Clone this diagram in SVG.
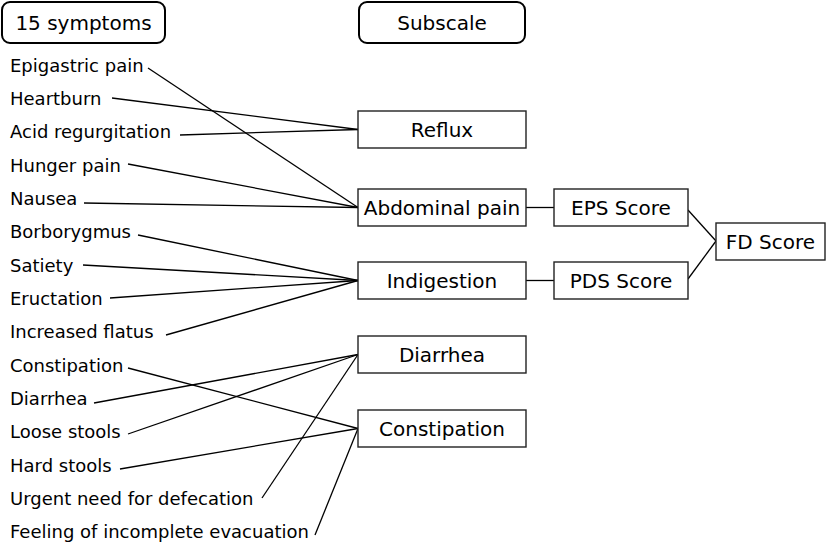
<svg xmlns="http://www.w3.org/2000/svg" width="828" height="542" viewBox="0 0 828 542">
<style>
text{font-family:"DejaVu Sans",Verdana,sans-serif;fill:#000}
.sym{font-size:18px}
.box{font-size:20px;text-anchor:middle}
.hdr{fill:#fff;stroke:#000;stroke-width:2}
.nb{fill:#fff;stroke:#222;stroke-width:1.4}
.ln{stroke:#000;stroke-width:1.3;fill:none}
</style>
<rect width="828" height="542" fill="#fff"/>
<g id="connectors">
<line class="ln" x1="148" y1="68" x2="358" y2="207.5"/>
<line class="ln" x1="112" y1="98" x2="358" y2="129.5"/>
<line class="ln" x1="180" y1="135" x2="358" y2="129.5"/>
<line class="ln" x1="128" y1="164" x2="358" y2="207.5"/>
<line class="ln" x1="84" y1="203" x2="358" y2="207.5"/>
<line class="ln" x1="138" y1="235" x2="358" y2="280.5"/>
<line class="ln" x1="83" y1="265" x2="358" y2="280.5"/>
<line class="ln" x1="110" y1="298" x2="358" y2="280.5"/>
<line class="ln" x1="166" y1="335" x2="358" y2="280.5"/>
<line class="ln" x1="128" y1="368" x2="358" y2="428.5"/>
<line class="ln" x1="94" y1="403" x2="358" y2="354.5"/>
<line class="ln" x1="128" y1="434" x2="358" y2="354.5"/>
<line class="ln" x1="120" y1="469" x2="358" y2="428.5"/>
<line class="ln" x1="262" y1="498" x2="358" y2="354.5"/>
<line class="ln" x1="315" y1="535" x2="358" y2="428.5"/>
<line class="ln" x1="526" y1="207.5" x2="554" y2="207.5"/>
<line class="ln" x1="526" y1="280.5" x2="554" y2="280.5"/>
<line class="ln" x1="688" y1="210" x2="716" y2="241"/>
<line class="ln" x1="688" y1="279" x2="716" y2="241"/>
</g>
<g id="hdr-symptoms"><rect class="hdr" x="2" y="2" width="163" height="41" rx="8"/><text class="box" x="83.5" y="30">15 symptoms</text></g>
<g id="hdr-subscale"><rect class="hdr" x="359" y="2" width="166" height="41" rx="8"/><text class="box" x="442" y="30">Subscale</text></g>
<g id="symptoms">
<text class="sym" x="10" y="72">Epigastric pain</text>
<text class="sym" x="10" y="105">Heartburn</text>
<text class="sym" x="10" y="138">Acid regurgitation</text>
<text class="sym" x="10" y="171.5">Hunger pain</text>
<text class="sym" x="10" y="205">Nausea</text>
<text class="sym" x="10" y="238">Borborygmus</text>
<text class="sym" x="10" y="271.5">Satiety</text>
<text class="sym" x="10" y="305">Eructation</text>
<text class="sym" x="10" y="338">Increased flatus</text>
<text class="sym" x="10" y="371.5">Constipation</text>
<text class="sym" x="10" y="405">Diarrhea</text>
<text class="sym" x="10" y="438">Loose stools</text>
<text class="sym" x="10" y="471.5">Hard stools</text>
<text class="sym" x="10" y="505">Urgent need for defecation</text>
<text class="sym" x="10" y="538">Feeling of incomplete evacuation</text>
</g>
<g id="reflux"><rect class="nb" x="358" y="111" width="168" height="37"/><text class="box" x="442" y="137">Reflux</text></g>
<g id="abdominal-pain"><rect class="nb" x="358" y="189" width="168" height="37"/><text class="box" x="442" y="215">Abdominal pain</text></g>
<g id="indigestion"><rect class="nb" x="358" y="262" width="168" height="37"/><text class="box" x="442" y="288">Indigestion</text></g>
<g id="diarrhea"><rect class="nb" x="358" y="336" width="168" height="37"/><text class="box" x="442" y="362">Diarrhea</text></g>
<g id="constipation"><rect class="nb" x="358" y="410" width="168" height="37"/><text class="box" x="442" y="436">Constipation</text></g>
<g id="eps"><rect class="nb" x="554" y="189" width="134" height="37"/><text class="box" x="621" y="215">EPS Score</text></g>
<g id="pds"><rect class="nb" x="554" y="262" width="134" height="37"/><text class="box" x="621" y="288">PDS Score</text></g>
<g id="fd"><rect class="nb" x="716" y="223" width="109" height="37"/><text class="box" x="770.5" y="249">FD Score</text></g>
</svg>
